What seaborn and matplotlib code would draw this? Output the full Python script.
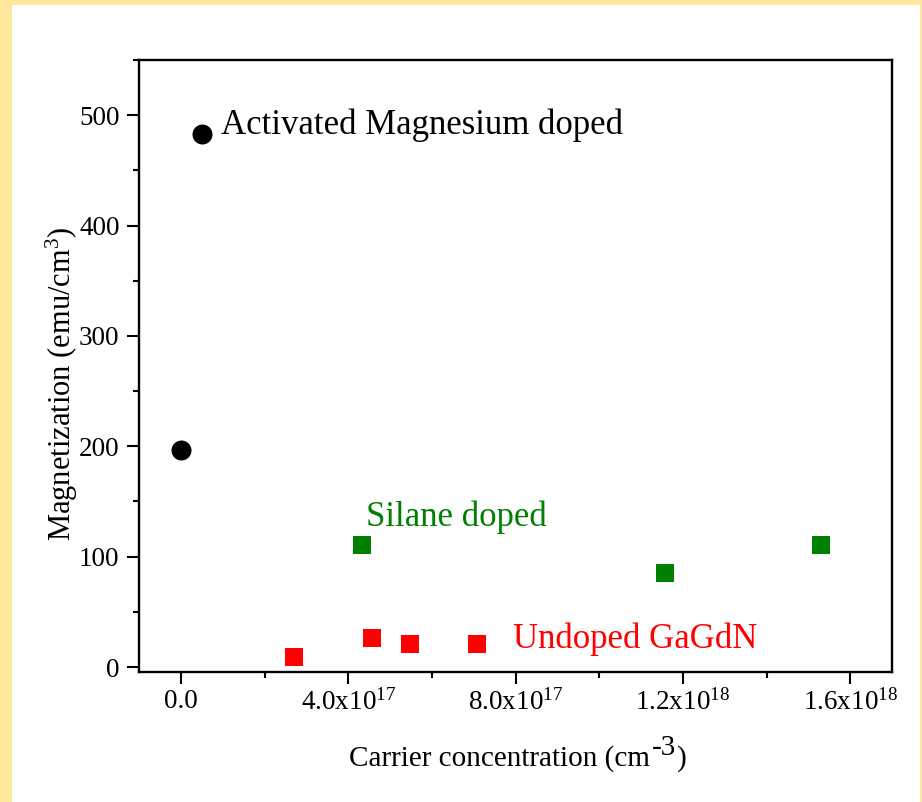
import matplotlib
matplotlib.use("Agg")
import matplotlib.pyplot as plt
from matplotlib.patches import Rectangle
from matplotlib.ticker import FixedLocator, MultipleLocator
import pandas as pd
import seaborn as sns

# Magnetization vs carrier concentration for three sample types
mg_x = [0.0, 0.5e17]
mg_y = [197, 483]
si_x = [4.33e17, 1.157e18, 1.53e18]
si_y = [111, 85, 111]
un_x = [2.71e17, 4.58e17, 5.49e17, 7.09e17]
un_y = [9.5, 26, 20.5, 20.5]

series_names = ["Activated Magnesium doped", "Silane doped", "Undoped GaGdN"]
x_ticks = [0.0, 4e17, 8e17, 1.2e18, 1.6e18]
x_tick_labels = ["0.0", "4.0x10$^{17}$", "8.0x10$^{17}$", "1.2x10$^{18}$", "1.6x10$^{18}$"]
y_ticks = [0, 100, 200, 300, 400, 500]

sns.set_style("ticks")
plt.rcParams["font.family"] = ["Liberation Serif", "DejaVu Serif"]
plt.rcParams["mathtext.fontset"] = "custom"
plt.rcParams["mathtext.rm"] = "Liberation Serif"
plt.rcParams["mathtext.it"] = "Liberation Serif:italic"
plt.rcParams["mathtext.bf"] = "Liberation Serif:bold"
plt.rcParams["text.color"] = "black"
plt.rcParams["axes.labelcolor"] = "black"
plt.rcParams["xtick.color"] = "black"
plt.rcParams["ytick.color"] = "black"

df = pd.concat([
    pd.DataFrame({"x": mg_x, "y": mg_y, "kind": series_names[0]}),
    pd.DataFrame({"x": si_x, "y": si_y, "kind": series_names[1]}),
    pd.DataFrame({"x": un_x, "y": un_y, "kind": series_names[2]}),
], ignore_index=True)

W, H = 922, 802
fig = plt.figure(figsize=(W / 100, H / 100), dpi=100)
fig.patch.set_facecolor("#FFE89C")
fig.add_artist(Rectangle((12 / W, 0), 908 / W, 797 / H,
                         transform=fig.transFigure, facecolor="white",
                         edgecolor="none", zorder=-10))
ax = fig.add_axes([139 / W, 1 - 672 / H, 753 / W, 612 / H])
ax.set_facecolor("white")

colors = {series_names[0]: "black", series_names[1]: "#008000", series_names[2]: "#FF0000"}
markers = {series_names[0]: "o", series_names[1]: "s", series_names[2]: "s"}
sizes = {series_names[0]: 207, series_names[1]: 160, series_names[2]: 160}

for name in series_names:
    sub = df[df["kind"] == name]
    sns.scatterplot(data=sub, x="x", y="y", ax=ax, color=colors[name],
                    marker=markers[name], s=sizes[name], linewidth=0,
                    legend=False, zorder=3)

ax.set_xlim(-1e17, 1.7e18)
ax.set_ylim(-4.5, 550)

ax.xaxis.set_major_locator(FixedLocator(x_ticks))
ax.set_xticklabels(x_tick_labels)
ax.xaxis.set_minor_locator(MultipleLocator(2e17))
ax.yaxis.set_major_locator(FixedLocator(y_ticks))
ax.yaxis.set_minor_locator(MultipleLocator(50))

ax.tick_params(axis="both", which="major", direction="out", length=8.5,
               width=1.5, labelsize=19.5, colors="black")
ax.tick_params(axis="x", which="major", pad=4)
ax.tick_params(axis="y", which="major", pad=5.5)
ax.tick_params(axis="both", which="minor", direction="out", length=4.5,
               width=1.5, colors="black")
ax.tick_params(top=False, right=False)
for side in ["left", "bottom", "right", "top"]:
    ax.spines[side].set_visible(True)
    ax.spines[side].set_linewidth(1.7)
    ax.spines[side].set_color("black")

ax.set_xlabel("")
ax.set_ylabel("Magnetization (emu/cm$^{3}$)", fontsize=22, color="black")
ax.yaxis.set_label_coords((80 - 139) / 753, (672 - 384) / 612)

# x-axis title with a full-size raised exponent
lab_fs = 21
x0, base = 349, 766
t1 = fig.text(x0 / W, 1 - base / H, "Carrier concentration (cm",
              fontsize=lab_fs, ha="left", va="baseline", color="black")
fig.canvas.draw()
r = fig.canvas.get_renderer()
x1 = t1.get_window_extent(r).x1
t2 = fig.text((x1 + 2) / W, 1 - (base - 11) / H, "-3",
              fontsize=lab_fs, ha="left", va="baseline", color="black")
x2 = t2.get_window_extent(r).x1
fig.text((x2 + 1) / W, 1 - base / H, ")",
         fontsize=lab_fs, ha="left", va="baseline", color="black")

ax.text(0.95e17, 483, series_names[0], fontsize=25, color="black",
        va="baseline", ha="left")
ax.text(4.43e17, 128, series_names[1], fontsize=25, color="#008000",
        va="baseline", ha="left")
ax.text(7.95e17, 17, series_names[2], fontsize=25, color="#FF0000",
        va="baseline", ha="left")

fig.savefig("out.png", dpi=100, facecolor=fig.get_facecolor())
